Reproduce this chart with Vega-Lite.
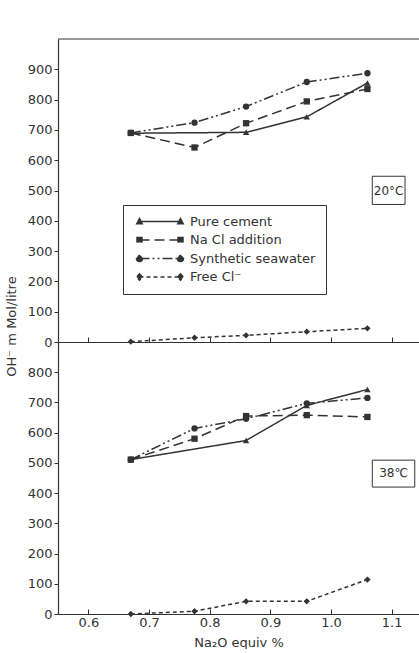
{
  "$schema": "https://vega.github.io/schema/vega-lite/v6.json",
  "padding": {"left": 5, "top": 38, "right": 0, "bottom": 0},
  "spacing": 0,
  "bounds": "flush",
  "config": {
    "font": "DejaVu Sans",
    "view": {"stroke": null},
    "axis": {"labelFont": "DejaVu Sans", "labelFontSize": 13, "labelColor": "#333", "titleColor": "#333", "titleFont": "DejaVu Sans", "titleFontWeight": "normal", "titleFontSize": 13, "domainColor": "#333", "tickColor": "#333", "grid": false, "domainWidth": 1.2, "tickWidth": 1}
  },
  "datasets": {
    "t20": [
      {"x": 0.67, "v": 689, "series": "Pure cement"},
      {"x": 0.86, "v": 692, "series": "Pure cement"},
      {"x": 0.96, "v": 743, "series": "Pure cement"},
      {"x": 1.06, "v": 855, "series": "Pure cement"},
      {"x": 0.67, "v": 690, "series": "Na Cl addition"},
      {"x": 0.775, "v": 642, "series": "Na Cl addition"},
      {"x": 0.86, "v": 722, "series": "Na Cl addition"},
      {"x": 0.96, "v": 794, "series": "Na Cl addition"},
      {"x": 1.06, "v": 835, "series": "Na Cl addition"},
      {"x": 0.67, "v": 690, "series": "Synthetic seawater"},
      {"x": 0.775, "v": 724, "series": "Synthetic seawater"},
      {"x": 0.86, "v": 777, "series": "Synthetic seawater"},
      {"x": 0.96, "v": 858, "series": "Synthetic seawater"},
      {"x": 1.06, "v": 887, "series": "Synthetic seawater"},
      {"x": 0.67, "v": 1, "series": "Free Cl⁻"},
      {"x": 0.775, "v": 14, "series": "Free Cl⁻"},
      {"x": 0.86, "v": 22, "series": "Free Cl⁻"},
      {"x": 0.96, "v": 34, "series": "Free Cl⁻"},
      {"x": 1.06, "v": 45, "series": "Free Cl⁻"}
    ],
    "t38": [
      {"x": 0.67, "v": 511, "series": "Pure cement"},
      {"x": 0.86, "v": 574, "series": "Pure cement"},
      {"x": 0.96, "v": 690, "series": "Pure cement"},
      {"x": 1.06, "v": 743, "series": "Pure cement"},
      {"x": 0.67, "v": 511, "series": "Na Cl addition"},
      {"x": 0.775, "v": 580, "series": "Na Cl addition"},
      {"x": 0.86, "v": 655, "series": "Na Cl addition"},
      {"x": 0.96, "v": 658, "series": "Na Cl addition"},
      {"x": 1.06, "v": 652, "series": "Na Cl addition"},
      {"x": 0.67, "v": 511, "series": "Synthetic seawater"},
      {"x": 0.775, "v": 614, "series": "Synthetic seawater"},
      {"x": 0.86, "v": 646, "series": "Synthetic seawater"},
      {"x": 0.96, "v": 697, "series": "Synthetic seawater"},
      {"x": 1.06, "v": 715, "series": "Synthetic seawater"},
      {"x": 0.67, "v": 0, "series": "Free Cl⁻"},
      {"x": 0.775, "v": 9, "series": "Free Cl⁻"},
      {"x": 0.86, "v": 42, "series": "Free Cl⁻"},
      {"x": 0.96, "v": 42, "series": "Free Cl⁻"},
      {"x": 1.06, "v": 114, "series": "Free Cl⁻"}
    ]
  },
  "resolve": {"scale": {"strokeDash": "independent", "shape": "independent"}, "legend": {"strokeDash": "independent", "shape": "independent"}},
  "vconcat": [
    {
      "width": 361,
      "height": 303,
      "layer": [
        {
          "data": {"name": "t20"},
          "mark": {"type": "line", "color": "#333", "strokeWidth": 1.5},
          "encoding": {
            "x": {"field": "x", "type": "quantitative", "scale": {"domain": [0.55, 1.145], "nice": false, "zero": false},
                  "axis": {"values": [0.6, 0.7, 0.8, 0.9, 1.0, 1.1], "labels": false, "tickSize": -5, "title": null}},
            "y": {"field": "v", "type": "quantitative", "scale": {"domain": [0, 1000], "nice": false},
                  "axis": {"values": [0, 100, 200, 300, 400, 500, 600, 700, 800, 900], "tickCount": 10, "labelExpr": "datum.value >= 1000 ? '' : datum.label", "labelOverlap": false, "tickSize": 4, "labelPadding": 2, "title": "OH⁻ m Mol/litre", "titleY": 287, "titleX": -40, "titleAnchor": "middle"}},
            "strokeDash": {"field": "series", "type": "nominal",
                  "scale": {"domain": ["Pure cement", "Na Cl addition", "Synthetic seawater", "Free Cl⁻"], "range": [[1, 0], [10, 5], [10, 3, 2, 3, 2, 3], [4, 3]]},
                  "legend": {"orient": "none", "legendX": 65, "legendY": 166, "title": null, "strokeColor": "#333", "padding": 10, "symbolSize": 100, "symbolStrokeColor": "#333", "symbolStrokeWidth": 1.5, "labelFontSize": 13, "labelColor": "#333", "labelFont": "DejaVu Sans", "labelOffset": 44, "rowPadding": 4.5, "fillColor": "white",
                    "encode": {"symbols": {"update": {
                      "shape": {"signal": "datum.value === 'Pure cement' ? 'M0,0H8.2M-0.55,0.45L0,-0.6L0.55,0.45ZM7.65,0.45L8.2,-0.6L8.75,0.45Z' : datum.value === 'Na Cl addition' ? 'M0,0H8.2M-0.5,-0.5h1v1h-1ZM7.7,-0.5h1v1h-1Z' : datum.value === 'Synthetic seawater' ? 'M0,0H8.2M-0.6,0a0.6,0.6 0 1,0 1.2,0a0.6,0.6 0 1,0 -1.2,0ZM7.6,0a0.6,0.6 0 1,0 1.2,0a0.6,0.6 0 1,0 -1.2,0Z' : 'M0,0H8.2M0,-0.65L0.6,0L0,0.65L-0.6,0ZM8.2,-0.65L8.8,0L8.2,0.65L7.6,0Z'"},
                      "fill": {"value": "#333"},
                      "stroke": {"value": "#333"},
                      "strokeWidth": {"value": 1.5}
                    }}}}},
            "order": {"field": "x"}
          }
        },
        {
          "data": {"name": "t20"},
          "mark": {"type": "point", "filled": true, "color": "#333", "size": 40, "opacity": 1},
          "encoding": {
            "x": {"field": "x", "type": "quantitative"},
            "y": {"field": "v", "type": "quantitative"},
            "shape": {"field": "series", "type": "nominal", "scale": {"domain": ["Free Cl⁻", "Na Cl addition", "Pure cement", "Synthetic seawater"], "range": ["diamond", "square", "triangle-up", "circle"]}, "legend": null}
          }
        },
        {
          "data": {"values": [{}]},
          "mark": {"type": "rule", "color": "#333", "strokeWidth": 1.2},
          "encoding": {"y": {"datum": 1000, "type": "quantitative"}}
        },
        {
          "data": {"values": [{}]},
          "mark": {"type": "rect", "fill": "transparent", "stroke": "#333", "strokeWidth": 1},
          "encoding": {"x": {"datum": 1.068, "type": "quantitative"}, "x2": {"datum": 1.122}, "y": {"datum": 454, "type": "quantitative"}, "y2": {"datum": 547}}
        },
        {
          "data": {"values": [{}]},
          "mark": {"type": "text", "text": "20°C", "fontSize": 12, "color": "#333", "font": "DejaVu Sans"},
          "encoding": {"x": {"datum": 1.095, "type": "quantitative"}, "y": {"datum": 500, "type": "quantitative"}}
        }
      ]
    },
    {
      "width": 361,
      "height": 272,
      "layer": [
        {
          "data": {"name": "t38"},
          "mark": {"type": "line", "color": "#333", "strokeWidth": 1.5},
          "encoding": {
            "x": {"field": "x", "type": "quantitative", "scale": {"domain": [0.55, 1.145], "nice": false, "zero": false},
                  "axis": {"values": [0.6, 0.7, 0.8, 0.9, 1.0, 1.1], "format": ".1f", "tickSize": -5, "labelPadding": 7, "title": "Na₂O equiv %", "titlePadding": 7}},
            "y": {"field": "v", "type": "quantitative", "scale": {"domain": [0, 900], "nice": false},
                  "axis": {"values": [0, 100, 200, 300, 400, 500, 600, 700, 800], "tickCount": 9, "labelExpr": "datum.value >= 900 ? '' : datum.label", "labelOverlap": false, "tickSize": 4, "labelPadding": 2, "title": null}},
            "strokeDash": {"field": "series", "type": "nominal",
                  "scale": {"domain": ["Pure cement", "Na Cl addition", "Synthetic seawater", "Free Cl⁻"], "range": [[1, 0], [10, 5], [10, 3, 2, 3, 2, 3], [4, 3]]},
                  "legend": null},
            "order": {"field": "x"}
          }
        },
        {
          "data": {"name": "t38"},
          "mark": {"type": "point", "filled": true, "color": "#333", "size": 40, "opacity": 1},
          "encoding": {
            "x": {"field": "x", "type": "quantitative"},
            "y": {"field": "v", "type": "quantitative"},
            "shape": {"field": "series", "type": "nominal", "scale": {"domain": ["Free Cl⁻", "Na Cl addition", "Pure cement", "Synthetic seawater"], "range": ["diamond", "square", "triangle-up", "circle"]}, "legend": null}
          }
        },
        {
          "data": {"values": [{}]},
          "mark": {"type": "rect", "fill": "transparent", "stroke": "#333", "strokeWidth": 1},
          "encoding": {"x": {"datum": 1.068, "type": "quantitative"}, "x2": {"datum": 1.138}, "y": {"datum": 420, "type": "quantitative"}, "y2": {"datum": 509}}
        },
        {
          "data": {"values": [{}]},
          "mark": {"type": "text", "text": "38℃", "fontSize": 12, "color": "#333", "font": "DejaVu Sans"},
          "encoding": {"x": {"datum": 1.103, "type": "quantitative"}, "y": {"datum": 465, "type": "quantitative"}}
        }
      ]
    }
  ]
}
